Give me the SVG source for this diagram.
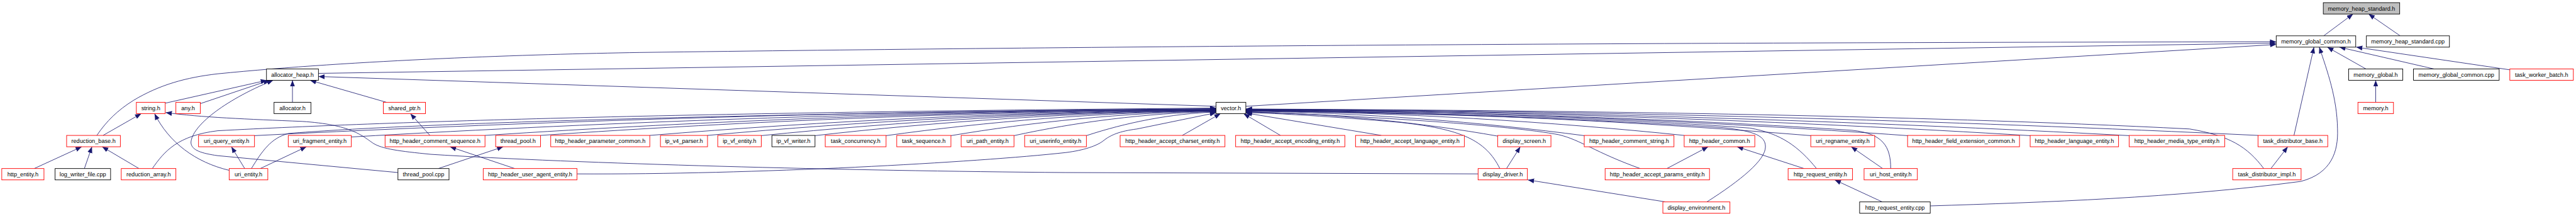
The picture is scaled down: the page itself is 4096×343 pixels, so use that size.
<svg xmlns="http://www.w3.org/2000/svg" width="4096" height="343" viewBox="0 0 4096 343">
<style>
.e{fill:none;stroke:#191970;stroke-width:1.2;marker-end:url(#a)}
.r{fill:#fff;stroke:#ff0000;stroke-width:1.3}
.k{fill:#fff;stroke:#000;stroke-width:1.3}
.g{fill:#bfbfbf;stroke:#000;stroke-width:1.3}
text{font-family:"Liberation Sans",Arial,sans-serif;font-size:13px;text-anchor:middle;fill:#000}
</style>
<defs>
<marker id="a" viewBox="0 0 14 11" refX="14" refY="5.5" markerWidth="14" markerHeight="11" orient="auto" markerUnits="userSpaceOnUse"><path d="M0,0 L14,5.5 L0,11 z" fill="#191970"/></marker>
</defs>
<rect width="4096" height="343" fill="#fff"/>
<g transform="scale(0.70621)">
<g id="edges">
<path class="e" d="M5232,80.5 L5298,31.5"/>
<path class="e" d="M5404,80.5 L5333,31.5"/>
<path class="e" d="M218,304.5 C240,272 265,248 300,226 C360,190 420,174 490,166 C800,135 1200,122 1440,118 C2500,104 3600,96 5125,94"/>
<path class="e" d="M717,165 L5125,97"/>
<path class="e" d="M2805,239 L5125,100"/>
<path class="e" d="M2738,239 L717,172"/>
<path class="e" d="M372,232 L601,180.5"/>
<path class="e" d="M451,233 L607,180.5"/>
<path class="e" d="M896,388 L490,350 C455,345 430,338 430,320 C432,285 500,228 615,180.5"/>
<path class="e" d="M870,230 L698,180.5"/>
<path class="e" d="M658.5,230 L658.5,180.5"/>
<path class="e" d="M232,304.5 L318,255.5"/>
<path class="e" d="M516,383 C440,365 380,320 348,255.5"/>
<path class="e" d="M3328,391 L2400,388 C1900,384 1300,368 970,347 C900,340 860,335 840,322 C815,305 790,280 680,273 C560,268 450,264 373,253"/>
<path class="e" d="M77,379 L184,330"/>
<path class="e" d="M190,379 L207,330"/>
<path class="e" d="M313,379 L230,330"/>
<path class="e" d="M551,379 L521,330"/>
<path class="e" d="M586,379 L690,330"/>
<path class="e" d="M968,304.5 L924,255.5"/>
<path class="e" d="M1159,379 L1013,330"/>
<path class="e" d="M987,379 L1133,330"/>
<path class="e" d="M343,379 C370,340 400,305 490,294 C900,272 1600,252 2738,243"/>
<path class="e" d="M566,379 C590,340 610,310 650,300 C900,280 1500,258 2738,244"/>
<path class="e" d="M573,305 C1222,272 1980,248 2738,245"/>
<path class="e" d="M791,308 C1375,274 2057,249 2738,246"/>
<path class="e" d="M1092,304.5 C1586,272 2162,249 2738,246.5"/>
<path class="e" d="M1217,304.5 C1673,273 2206,250 2738,247"/>
<path class="e" d="M1463,304.5 C1846,273 2292,250 2738,247.5"/>
<path class="e" d="M1593,304.5 C1936,273 2337,251 2738,248"/>
<path class="e" d="M1714,305 C2021,274 2380,251 2738,248.5"/>
<path class="e" d="M1835,305 C2106,274 2422,252 2738,249"/>
<path class="e" d="M1995,305 C2218,274 2478,252 2738,249.5"/>
<path class="e" d="M2141,305 C2320,275 2529,253 2738,250"/>
<path class="e" d="M2283,305 C2420,275 2579,254 2738,251"/>
<path class="e" d="M2446,305 C2534,276 2636,255 2738,252"/>
<path class="e" d="M1299,391 C1700,393 2200,365 2400,343 C2440,338 2470,328 2485,316 C2500,304 2520,295 2560,290 L2738,253.5"/>
<path class="e" d="M2662,304.5 L2748,255.5"/>
<path class="e" d="M2883,304.5 L2800,255.5"/>
<path class="e" d="M3110,304.5 L2805,254"/>
<path class="e" d="M3372,306 C3202,276 3003,255 2805,252"/>
<path class="e" d="M3567,305 C3338,275 3072,253 2805,250"/>
<path class="e" d="M3792,304.5 C3496,274 3150,252 2805,249"/>
<path class="e" d="M4077,305 C3695,274 3250,251 2805,248"/>
<path class="e" d="M4295,305 C3848,273 3326,250 2805,247"/>
<path class="e" d="M4571,305 C4041,273 3423,249 2805,246.5"/>
<path class="e" d="M4794,305 C4197,273 3501,249 2805,246"/>
<path class="e" d="M5084,304.5 C4400,272 3603,248 2805,245.5"/>
<path class="e" d="M3377,379 C3345,315 3290,290 3150,275 C3000,262 2880,255 2805,253"/>
<path class="e" d="M3693,379 C3590,342 3560,315 3510,303 C3400,282 3100,262 2805,251"/>
<path class="e" d="M4090,379 C4050,330 4010,300 3940,288 C3600,262 3100,252 2805,248.5"/>
<path class="e" d="M4257,379 C4257,330 4240,300 4170,293 C3700,262 3200,250 2805,247.5"/>
<path class="e" d="M3843,454 C3920,405 3975,360 3975,330 C3975,305 3950,295 3880,287 C3500,262 3100,253 2805,249.5"/>
<path class="e" d="M5097,379 C5060,330 5020,305 4930,290 C4300,258 3500,248 2805,245"/>
<path class="e" d="M3750,454 L3440,404.5"/>
<path class="e" d="M3392,379 L3423,330"/>
<path class="e" d="M3753,379 L3846,330"/>
<path class="e" d="M4062,379 L3911,330"/>
<path class="e" d="M4238,454 L4131,404.5"/>
<path class="e" d="M4239,379 L4168,330"/>
<path class="e" d="M5113,379 L5151,330"/>
<path class="e" d="M5165,304.5 L5210,106"/>
<path class="e" d="M4346,463 C4600,455 4900,445 5180,408 C5250,390 5265,340 5263,290 C5262,220 5240,160 5222,106"/>
<path class="e" d="M5327,155 L5240,106"/>
<path class="e" d="M5480,155 L5267,106"/>
<path class="e" d="M5651,157 L5305,106"/>
<path class="e" d="M5349,230 L5349,180.5"/>
</g>
<g id="n-mhs"><rect class="g" x="5231" y="6" width="172" height="25.5"/><text x="5317" y="23.5">memory_heap_standard.h</text></g>
<g id="n-mgc"><rect class="k" x="5125" y="80.5" width="179" height="25.5"/><text x="5214.5" y="98">memory_global_common.h</text></g>
<g id="n-mhscpp"><rect class="k" x="5328" y="80.5" width="187" height="25.5"/><text x="5421.5" y="98">memory_heap_standard.cpp</text></g>
<g id="n-ah"><rect class="k" x="600" y="155" width="117" height="25.5"/><text x="658.5" y="172.5">allocator_heap.h</text></g>
<g id="n-mg"><rect class="k" x="5288" y="155" width="122" height="25.5"/><text x="5349" y="172.5">memory_global.h</text></g>
<g id="n-mgccpp"><rect class="k" x="5434" y="155" width="193" height="25.5"/><text x="5530.5" y="172.5">memory_global_common.cpp</text></g>
<g id="n-twb"><rect class="r" x="5651" y="155" width="143" height="25.5"/><text x="5722.5" y="172.5">task_worker_batch.h</text></g>
<g id="n-str"><rect class="r" x="307" y="230" width="65" height="25.5"/><text x="339.5" y="247.5">string.h</text></g>
<g id="n-any"><rect class="r" x="396" y="230" width="55" height="25.5"/><text x="423.5" y="247.5">any.h</text></g>
<g id="n-alloc"><rect class="k" x="617" y="230" width="83" height="25.5"/><text x="658.5" y="247.5">allocator.h</text></g>
<g id="n-sp"><rect class="r" x="863" y="230" width="95" height="25.5"/><text x="910.5" y="247.5">shared_ptr.h</text></g>
<g id="n-vec"><rect class="k" x="2738" y="230" width="67" height="25.5"/><text x="2771.5" y="247.5">vector.h</text></g>
<g id="n-mem"><rect class="r" x="5309" y="230" width="80" height="25.5"/><text x="5349" y="247.5">memory.h</text></g>
<g id="n-rb"><rect class="r" x="150" y="304.5" width="121" height="25.5"/><text x="210.5" y="322">reduction_base.h</text></g>
<g id="n-uq"><rect class="r" x="447" y="304.5" width="126" height="25.5"/><text x="510" y="322">uri_query_entity.h</text></g>
<g id="n-uf"><rect class="r" x="649" y="304.5" width="142" height="25.5"/><text x="720" y="322">uri_fragment_entity.h</text></g>
<g id="n-hcs"><rect class="r" x="867" y="304.5" width="225" height="25.5"/><text x="979.5" y="322">http_header_comment_sequence.h</text></g>
<g id="n-tp"><rect class="r" x="1116" y="304.5" width="101" height="25.5"/><text x="1166.5" y="322">thread_pool.h</text></g>
<g id="n-hpc"><rect class="r" x="1240" y="304.5" width="223" height="25.5"/><text x="1351.5" y="322">http_header_parameter_common.h</text></g>
<g id="n-ip4"><rect class="r" x="1487" y="304.5" width="106" height="25.5"/><text x="1540" y="322">ip_v4_parser.h</text></g>
<g id="n-ipe"><rect class="r" x="1616" y="304.5" width="98" height="25.5"/><text x="1665" y="322">ip_vf_entity.h</text></g>
<g id="n-ipw"><rect class="k" x="1738" y="304.5" width="97" height="25.5"/><text x="1786.5" y="322">ip_vf_writer.h</text></g>
<g id="n-tc"><rect class="r" x="1858" y="304.5" width="137" height="25.5"/><text x="1926.5" y="322">task_concurrency.h</text></g>
<g id="n-ts"><rect class="r" x="2019" y="304.5" width="122" height="25.5"/><text x="2080" y="322">task_sequence.h</text></g>
<g id="n-upe"><rect class="r" x="2164" y="304.5" width="119" height="25.5"/><text x="2223.5" y="322">uri_path_entity.h</text></g>
<g id="n-uue"><rect class="r" x="2307" y="304.5" width="139" height="25.5"/><text x="2376.5" y="322">uri_userinfo_entity.h</text></g>
<g id="n-hac"><rect class="r" x="2522" y="304.5" width="236" height="25.5"/><text x="2640" y="322">http_header_accept_charset_entity.h</text></g>
<g id="n-hae"><rect class="r" x="2782" y="304.5" width="246" height="25.5"/><text x="2905" y="322">http_header_accept_encoding_entity.h</text></g>
<g id="n-hal"><rect class="r" x="3052" y="304.5" width="245" height="25.5"/><text x="3174.5" y="322">http_header_accept_language_entity.h</text></g>
<g id="n-ds"><rect class="r" x="3372" y="304.5" width="120" height="25.5"/><text x="3432" y="322">display_screen.h</text></g>
<g id="n-hcstr"><rect class="r" x="3567" y="304.5" width="202" height="25.5"/><text x="3668" y="322">http_header_comment_string.h</text></g>
<g id="n-hc"><rect class="r" x="3792" y="304.5" width="159" height="25.5"/><text x="3871.5" y="322">http_header_common.h</text></g>
<g id="n-ur"><rect class="r" x="4077" y="304.5" width="144" height="25.5"/><text x="4149" y="322">uri_regname_entity.h</text></g>
<g id="n-hfe"><rect class="r" x="4295" y="304.5" width="252" height="25.5"/><text x="4421" y="322">http_header_field_extension_common.h</text></g>
<g id="n-hle"><rect class="r" x="4571" y="304.5" width="199" height="25.5"/><text x="4670.5" y="322">http_header_language_entity.h</text></g>
<g id="n-hmt"><rect class="r" x="4794" y="304.5" width="215" height="25.5"/><text x="4901.5" y="322">http_header_media_type_entity.h</text></g>
<g id="n-tdb"><rect class="r" x="5084" y="304.5" width="157" height="25.5"/><text x="5162.5" y="322">task_distributor_base.h</text></g>
<g id="n-he"><rect class="r" x="4" y="379" width="95" height="25.5"/><text x="51.5" y="396.5">http_entity.h</text></g>
<g id="n-lwf"><rect class="k" x="124" y="379" width="125" height="25.5"/><text x="186.5" y="396.5">log_writer_file.cpp</text></g>
<g id="n-ra"><rect class="r" x="273" y="379" width="123" height="25.5"/><text x="334.5" y="396.5">reduction_array.h</text></g>
<g id="n-ue"><rect class="r" x="516" y="379" width="87" height="25.5"/><text x="559.5" y="396.5">uri_entity.h</text></g>
<g id="n-tpcpp"><rect class="k" x="896" y="379" width="115" height="25.5"/><text x="953.5" y="396.5">thread_pool.cpp</text></g>
<g id="n-hua"><rect class="r" x="1088" y="379" width="211" height="25.5"/><text x="1193.5" y="396.5">http_header_user_agent_entity.h</text></g>
<g id="n-dd"><rect class="r" x="3328" y="379" width="111" height="25.5"/><text x="3383.5" y="396.5">display_driver.h</text></g>
<g id="n-hap"><rect class="r" x="3614" y="379" width="235" height="25.5"/><text x="3731.5" y="396.5">http_header_accept_params_entity.h</text></g>
<g id="n-hre"><rect class="r" x="4026" y="379" width="145" height="25.5"/><text x="4098.5" y="396.5">http_request_entity.h</text></g>
<g id="n-uhe"><rect class="r" x="4197" y="379" width="120" height="25.5"/><text x="4257" y="396.5">uri_host_entity.h</text></g>
<g id="n-tdi"><rect class="r" x="5027" y="379" width="154" height="25.5"/><text x="5104" y="396.5">task_distributor_impl.h</text></g>
<g id="n-de"><rect class="r" x="3744" y="454" width="151" height="25.5"/><text x="3819.5" y="471.5">display_environment.h</text></g>
<g id="n-hrecpp"><rect class="k" x="4187" y="454" width="159" height="25.5"/><text x="4266.5" y="471.5">http_request_entity.cpp</text></g>
</g>
</svg>
